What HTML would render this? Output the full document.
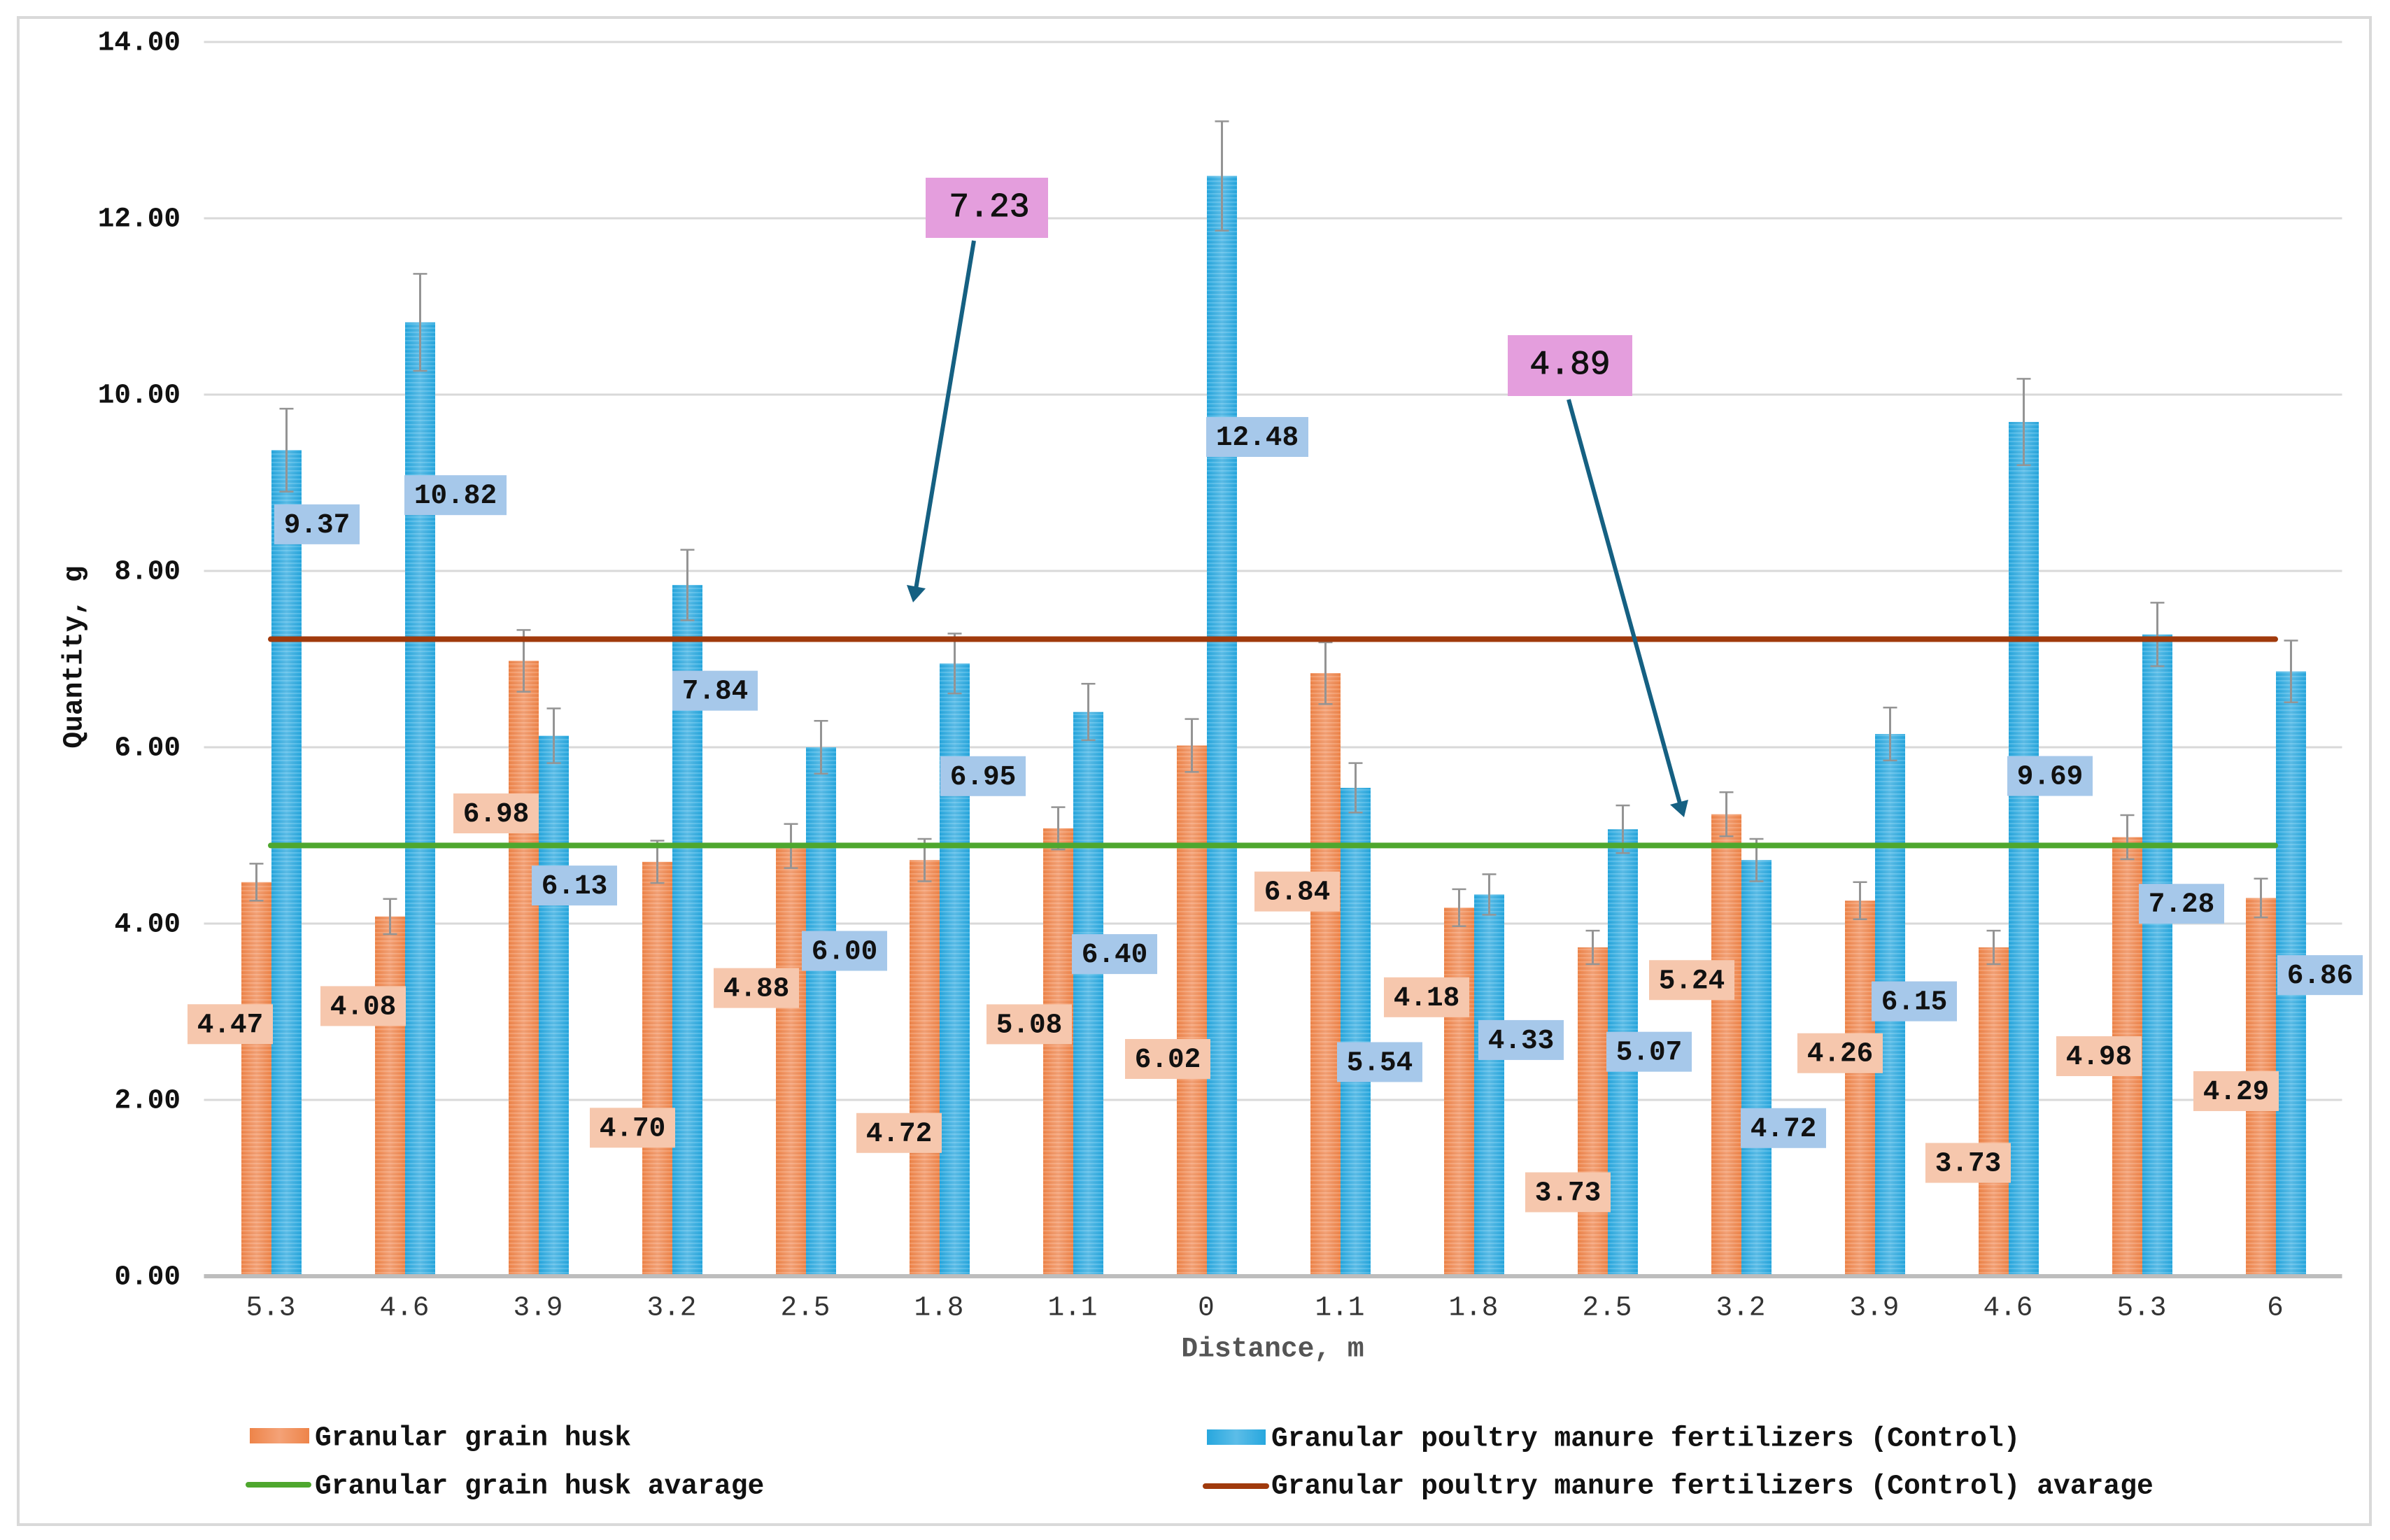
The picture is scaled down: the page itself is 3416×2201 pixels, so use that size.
<!DOCTYPE html>
<html lang="en">
<head>
<meta charset="utf-8">
<title>Quantity by distance</title>
<style>
html,body{margin:0;padding:0;background:#fff}
svg{display:block}
text{font-family:"Liberation Mono",monospace;fill:#111}
</style>
</head>
<body>
<svg id="chart" xmlns="http://www.w3.org/2000/svg" width="3416" height="2201" viewBox="0 0 3416 2201">
  <defs>
    <linearGradient id="orangeEdge" x1="0" x2="1" y1="0" y2="0">
      <stop offset="0" stop-color="#ee8449"/><stop offset="0.5" stop-color="#f4a277"/><stop offset="1" stop-color="#ee8449"/>
    </linearGradient>
    <linearGradient id="blueEdge" x1="0" x2="1" y1="0" y2="0">
      <stop offset="0" stop-color="#27a7de"/><stop offset="0.5" stop-color="#5cbde8"/><stop offset="1" stop-color="#27a7de"/>
    </linearGradient>
    <pattern id="stripes" width="8" height="6" patternUnits="userSpaceOnUse">
      <rect x="0" y="0" width="8" height="2" fill="#ffffff" opacity="0.16"/>
      <rect x="0" y="4" width="8" height="1" fill="#000000" opacity="0.04"/>
    </pattern>
  </defs>
  <rect x="0" y="0" width="3416" height="2201" fill="#ffffff"/>
  <rect x="26" y="25" width="3362" height="2154" fill="#ffffff" stroke="#d9d9d9" stroke-width="4"/>
  <g id="grid"></g>
  <g id="bars"></g>
  <g id="errors"></g>
  <g id="averages"></g>
  <g id="labels"></g>
  <g id="ticks"></g>
  <text x="1819" y="1928" font-size="39.6" text-anchor="middle" dominant-baseline="central" style="fill:#555;font-weight:bold">Distance, m</text>
  <text x="106" y="939" font-size="39.6" font-weight="bold" text-anchor="middle" dominant-baseline="central" transform="rotate(-90 106 939)">Quantity, g</text>

  <g>
    <g>
      <rect x="357" y="2041" width="85" height="22" fill="url(#orangeEdge)"/>
      <text x="450" y="2055" font-size="39.65" font-weight="bold" dominant-baseline="central">Granular grain husk</text>
    </g>
    <g>
      <rect x="1725" y="2043" width="84" height="22" fill="url(#blueEdge)"/>
      <text x="1817" y="2056" font-size="39.65" font-weight="bold" dominant-baseline="central">Granular poultry manure fertilizers (Control)</text>
    </g>
    <g>
      <line x1="355" y1="2122" x2="441" y2="2122" stroke="#4ea72e" stroke-width="8" stroke-linecap="round"/>
      <text x="450" y="2124" font-size="39.65" font-weight="bold" dominant-baseline="central">Granular grain husk avarage</text>
    </g>
    <g>
      <line x1="1723" y1="2124" x2="1810" y2="2124" stroke="#a03a0c" stroke-width="8" stroke-linecap="round"/>
      <text x="1817" y="2124" font-size="39.65" font-weight="bold" dominant-baseline="central">Granular poultry manure fertilizers (Control) avarage</text>
    </g>
  </g>

  <g>
    <rect x="1323" y="254" width="175" height="86" fill="#e49edd"/>
    <text id="annotationPoultry" x="1414" y="297" font-size="48" text-anchor="middle" dominant-baseline="central" style="stroke:#111;stroke-width:1"></text>
    <line x1="1392" y1="344" x2="1309" y2="842" stroke="#156082" stroke-width="6"/>
    <polygon points="1305,861 1296,836 1323,841" fill="#156082"/>
  </g>
  <g>
    <rect x="2155" y="479" width="178" height="87" fill="#e49edd"/>
    <text id="annotationHusk" x="2244" y="522" font-size="48" text-anchor="middle" dominant-baseline="central" style="stroke:#111;stroke-width:1"></text>
    <line x1="2242" y1="571" x2="2401" y2="1148" stroke="#156082" stroke-width="6"/>
    <polygon points="2407,1168 2387,1150 2413,1143" fill="#156082"/>
  </g>
</svg>

<script>
// ---- chart data ----
const categories = ["5.3","4.6","3.9","3.2","2.5","1.8","1.1","0","1.1","1.8","2.5","3.2","3.9","4.6","5.3","6"];
const huskValues = [4.47,4.08,6.98,4.70,4.88,4.72,5.08,6.02,6.84,4.18,3.73,5.24,4.26,3.73,4.98,4.29];
const poultryValues = [9.37,10.82,6.13,7.84,6.00,6.95,6.40,12.48,5.54,4.33,5.07,4.72,6.15,9.69,7.28,6.86];
const huskErrors = [0.21,0.20,0.35,0.24,0.25,0.24,0.24,0.30,0.35,0.21,0.19,0.25,0.21,0.19,0.25,0.22];
const poultryErrors = [0.47,0.55,0.31,0.40,0.30,0.34,0.32,0.62,0.28,0.23,0.27,0.24,0.30,0.49,0.36,0.35];
const huskAverage = 4.89;
const poultryAverage = 7.23;
const yTicks = [0,2,4,6,8,10,12,14];

// ---- hand-placed data-label nudges, relative to each bar (layout, not data) ----
const huskNudgeX = [-58,-59,-60,-56,-70,-57,-62,-55,-61,-67,-56,-70,-49,-57,-61,-56];
const huskNudgeY = [203,128,218,380,203,390,280,448,312,128,350,237,218,308,313,276];
const poultryNudgeX = [66,73,52,62,56,63,60,73,57,68,60,61,57,60,57,64];
const poultryNudgeY = [106,247,214,151,291,161,346,373,392,208,318,383,382,506,385,434];

// ---- axis functions ----
const plotLeft = 291.5, plotRight = 3347.5, plotBottom = 1824, plotTop = 60, yMax = 14;
const barWidth = 43;
function yScale(v){ return plotBottom - (plotBottom - plotTop) * v / yMax; }
function xCenter(i){ return plotLeft + (plotRight - plotLeft) * (i + 0.5) / categories.length; }

const NS = "http://www.w3.org/2000/svg";
function make(tag, parent, attrs){
  const el = document.createElementNS(NS, tag);
  for (const k in attrs) el.setAttribute(k, attrs[k]);
  parent.appendChild(el);
  return el;
}
const gGrid = document.getElementById("grid");
const gBars = document.getElementById("bars");
const gErrors = document.getElementById("errors");
const gAverages = document.getElementById("averages");
const gLabels = document.getElementById("labels");
const gTicks = document.getElementById("ticks");

// gridlines and y tick labels
yTicks.forEach(function(t){
  const y = yScale(t);
  const isBase = t === 0;
  const gl = make("line", gGrid, {x1:plotLeft, x2:plotRight, y1:y, y2:y, stroke:isBase ? "#bdbdbd" : "#d9d9d9", "stroke-width":isBase ? 6 : 3});
  
  
  const lb = make("text", gTicks, {x:258, y:y + 1, "font-size":39.4, "font-weight":"bold", "text-anchor":"end", "dominant-baseline":"central"});
  
  
  lb.textContent = t.toFixed(2);
});

// x tick labels
categories.forEach(function(c, i){
  const lb = make("text", gTicks, {x:xCenter(i), y:1869, "font-size":39.4, "text-anchor":"middle", "dominant-baseline":"central", style:"fill:#333"});
  
  
  lb.textContent = c;
});

// one bar plus its stripe overlay
function drawBar(x, v, fill, name){
  const top = yScale(v), h = plotBottom - 3 - top;
  const b = make("rect", gBars, {x:x, y:top, width:barWidth, height:h, fill:fill});
  
  
  const s = make("rect", gBars, {x:x, y:top, width:barWidth, height:h, fill:"url(#stripes)"});
  
  
}
function drawError(x, v, e, name){
  const hi = yScale(v + e), lo = yScale(v - e), col = "#949494";
  const st = make("line", gErrors, {x1:x, x2:x, y1:hi, y2:lo, stroke:col, "stroke-width":3});
  
  
  const c1 = make("line", gErrors, {x1:x - 10, x2:x + 10, y1:hi, y2:hi, stroke:col, "stroke-width":2.5});
  
  
  const c2 = make("line", gErrors, {x1:x - 10, x2:x + 10, y1:lo, y2:lo, stroke:col, "stroke-width":2.5});
  
  
}
function drawLabel(cx, cy, v, bg, name){
  const txt = v.toFixed(2);
  const w = txt.length === 5 ? 146 : 122, h = 57;
  const r = make("rect", gLabels, {x:cx - w / 2, y:cy - h / 2, width:w, height:h, fill:bg});
  
  
  const t = make("text", gLabels, {x:cx, y:cy + 1, "font-size":39.4, "font-weight":"bold", "text-anchor":"middle", "dominant-baseline":"central"});
  
  
  t.textContent = txt;
}

categories.forEach(function(c, i){
  const cx = xCenter(i);
  const splitX = cx + 1;
  drawBar(splitX - barWidth, huskValues[i], "url(#orangeEdge)", "bar-husk-" + i);
  drawBar(splitX, poultryValues[i], "url(#blueEdge)", "bar-poultry-" + i);
  drawError(splitX - barWidth / 2, huskValues[i], huskErrors[i], "error-bar-husk-" + i);
  drawError(splitX + barWidth / 2, poultryValues[i], poultryErrors[i], "error-bar-poultry-" + i);
  drawLabel(cx + huskNudgeX[i], yScale(huskValues[i]) + huskNudgeY[i], huskValues[i], "#f6c7ad", "data-label-husk-" + i);
  drawLabel(cx + poultryNudgeX[i], yScale(poultryValues[i]) + poultryNudgeY[i], poultryValues[i], "#a6c8ea", "data-label-poultry-" + i);
});

// average lines
const avgRed = make("line", gAverages, {x1:xCenter(0), x2:xCenter(categories.length - 1), y1:yScale(poultryAverage) + 0.5, y2:yScale(poultryAverage) + 0.5, stroke:"#a03a0c", "stroke-width":8, "stroke-linecap":"round"});


const avgGreen = make("line", gAverages, {x1:xCenter(0), x2:xCenter(categories.length - 1), y1:yScale(huskAverage) + 0.5, y2:yScale(huskAverage) + 0.5, stroke:"#4ea72e", "stroke-width":8, "stroke-linecap":"round"});



document.getElementById("annotationPoultry").textContent = poultryAverage.toFixed(2);
document.getElementById("annotationHusk").textContent = huskAverage.toFixed(2);
</script>
</body>
</html>
